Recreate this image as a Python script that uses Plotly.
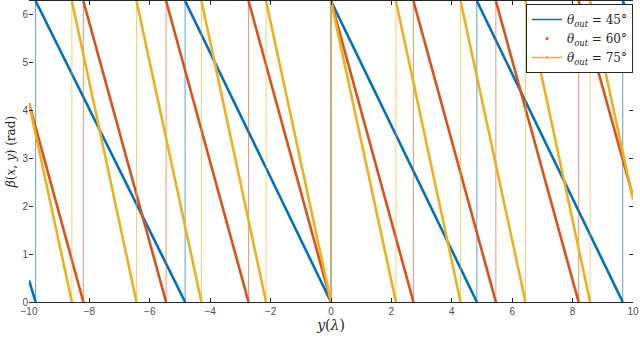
import numpy as np
import plotly.graph_objects as go

# phase range of the wrapped beta(x, y)
beta_max = 2 * np.pi

# y positions (in lambda) where each sawtooth wraps from 0 back to 2pi
wraps_45 = [-9.78, -4.83, 0.0, 4.83, 9.66]
wraps_60 = [-8.20, -5.46, -2.73, 0.0, 2.73, 5.46, 8.20]
wraps_75 = [-8.58, -6.44, -4.29, -2.15, 0.0, 2.15, 4.29, 6.44, 8.58]

# beta values at the two ends of the y range
start_45, end_45 = 0.45, 5.84
start_60, end_60 = 4.15, 2.20
start_75, end_75 = 4.14, 2.14

y_min, y_max = -10, 10

series = [
    ('45', wraps_45, start_45, end_45, '#0072BD', 'rgba(0,114,189,0.65)'),
    ('60', wraps_60, start_60, end_60, '#D95319', 'rgba(217,83,25,0.6)'),
    ('75', wraps_75, start_75, end_75, '#EDB120', 'rgba(237,177,32,0.6)'),
]


def ramps(wraps, b0, b1):
    xs, ys = [y_min, wraps[0], None], [b0, 0, None]
    for a, b in zip(wraps[:-1], wraps[1:]):
        xs += [a, b, None]
        ys += [beta_max, 0, None]
    xs += [wraps[-1], y_max]
    ys += [beta_max, b1]
    return xs, ys


def jumps(wraps):
    xs, ys = [], []
    for w in wraps:
        xs += [w, w, None]
        ys += [0, beta_max, None]
    return xs, ys


fig = go.Figure()

for name, wraps, b0, b1, col, col_v in series:
    vx, vy = jumps(wraps)
    fig.add_trace(go.Scatter(x=vx, y=vy, mode='lines', showlegend=False,
                             line=dict(color=col_v, width=1)))
    rx, ry = ramps(wraps, b0, b1)
    fig.add_trace(go.Scatter(x=rx, y=ry, mode='lines', showlegend=False,
                             line=dict(color=col, width=2.6)))

# legend entries (line / dot / line+dot, as in the original)
leg_font = '<i>θ</i><sub><i>out</i></sub> = {}°'
fig.add_trace(go.Scatter(x=[None], y=[None], mode='lines', name=leg_font.format(45),
                         line=dict(color='#0072BD', width=1.5)))
fig.add_trace(go.Scatter(x=[None], y=[None], mode='markers', name=leg_font.format(60),
                         marker=dict(color='#D95319', size=3)))
fig.add_trace(go.Scatter(x=[None], y=[None], mode='lines+markers', name=leg_font.format(75),
                         line=dict(color='#EDB120', width=1.5),
                         marker=dict(color='#EDB120', size=3)))

fig.update_layout(
    width=640,
    height=337,
    margin=dict(l=29, r=7, t=1, b=35),
    plot_bgcolor='white',
    paper_bgcolor='white',
    font=dict(family='Liberation Sans', size=10, color='#4d4d4d'),
    xaxis=dict(
        range=[y_min, y_max],
        tickvals=list(range(-10, 11, 2)),
        ticks='inside', ticklen=4, tickcolor='#262626',
        showgrid=False, zeroline=False, automargin=False,
        showline=True, linecolor='#262626', linewidth=1, mirror='allticks',
        title=dict(text='<i>y</i>(<i>λ</i>)', standoff=4,
                   font=dict(family='DejaVu Serif', size=14, color='#262626')),
    ),
    yaxis=dict(
        range=[0, beta_max],
        tickvals=list(range(0, 7)),
        ticks='inside', ticklen=4, tickcolor='#262626',
        showgrid=False, zeroline=False, automargin=False,
        showline=False, mirror='ticks',
        title=dict(text='<i>β</i>(<i>x</i>, <i>y</i>) (rad)', standoff=4,
                   font=dict(family='DejaVu Serif', size=12, color='#262626')),
    ),
    legend=dict(
        x=1.0, y=0.99, xanchor='right', yanchor='top',
        bgcolor='white', bordercolor='#262626', borderwidth=1,
        font=dict(family='DejaVu Serif', size=12, color='#262626'),
        tracegroupgap=0, itemwidth=30,
    ),
)

# drop the browser's default page margin so the figure sits at the window corner
fig.write_html("out.html", config={'displayModeBar': False},
               post_script="document.body.style.margin='0';")
